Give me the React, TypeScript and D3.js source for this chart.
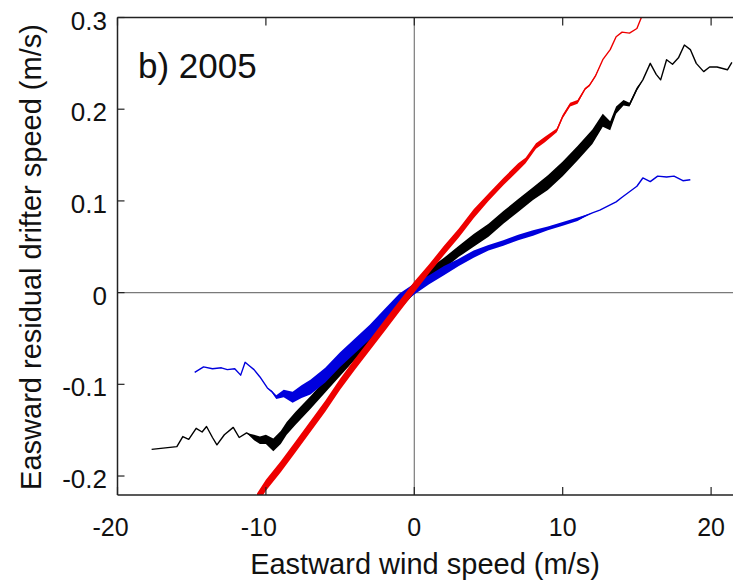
import React from "react";
import * as d3 from "d3";

const W = 733;
const H = 584;

// Eastward wind speed (m/s) -> residual drifter speed (m/s)
const redX = [-10.6, -10, -9, -8, -7, -6, -5, -4, -3, -2, -1, 0, 1, 2, 3, 4, 5, 6, 7, 7.5, 8.2, 8.8, 9.6, 10, 10.5, 11, 11.5, 11.8, 12.2, 12.7, 13.2, 13.6, 14, 14.5, 15, 15.3];
const redY = [-0.225, -0.21, -0.19, -0.168, -0.146, -0.124, -0.1, -0.078, -0.057, -0.036, -0.015, 0.006, 0.026, 0.046, 0.065, 0.086, 0.104, 0.121, 0.137, 0.144, 0.16, 0.167, 0.177, 0.192, 0.205, 0.208, 0.222, 0.226, 0.236, 0.254, 0.265, 0.279, 0.284, 0.283, 0.288, 0.3];
const redSpread = [0.006, 0.006, 0.006, 0.006, 0.006, 0.006, 0.006, 0.006, 0.006, 0.006, 0.006, 0.006, 0.005, 0.005, 0.005, 0.005, 0.004, 0.004, 0.004, 0.003, 0.003, 0.003, 0.002, 0.002, 0.002, 0.002, 0.001, 0.001, 0.001, 0, 0, 0, 0, 0, 0, 0];

const blackX = [-17.7, -16, -15.6, -15.2, -14.7, -14.3, -14, -13.6, -13.3, -12.8, -12.2, -11.8, -11.3, -10.8, -10.4, -10, -9.5, -9, -8.6, -8, -7, -6, -5, -4, -3, -2, -1, 0, 1, 2, 3, 4, 5, 6, 7, 8, 9, 10, 11, 12, 12.7, 13.2, 13.6, 14.1, 14.5, 15, 15.4, 15.9, 16.3, 16.6, 17, 17.4, 17.8, 18.2, 18.6, 19, 19.5, 19.9, 20.4, 21.1, 21.4];
const blackY = [-0.171, -0.168, -0.157, -0.16, -0.148, -0.152, -0.146, -0.158, -0.166, -0.155, -0.147, -0.158, -0.153, -0.158, -0.161, -0.16, -0.166, -0.158, -0.148, -0.137, -0.12, -0.102, -0.084, -0.066, -0.049, -0.031, -0.013, 0.005, 0.02, 0.032, 0.045, 0.057, 0.068, 0.082, 0.095, 0.108, 0.12, 0.135, 0.152, 0.17, 0.188, 0.182, 0.199, 0.207, 0.205, 0.222, 0.232, 0.25, 0.238, 0.232, 0.254, 0.249, 0.256, 0.27, 0.265, 0.25, 0.241, 0.246, 0.246, 0.243, 0.251];
const blackSpread = [0, 0, 0, 0, 0, 0, 0, 0, 0, 0, 0, 0, 0, 0.003, 0.004, 0.005, 0.007, 0.007, 0.007, 0.007, 0.007, 0.007, 0.007, 0.007, 0.007, 0.006, 0.006, 0.006, 0.006, 0.006, 0.006, 0.007, 0.007, 0.007, 0.007, 0.007, 0.008, 0.008, 0.008, 0.008, 0.007, 0.005, 0.004, 0.003, 0.002, 0.002, 0, 0, 0, 0, 0, 0, 0, 0, 0, 0, 0, 0, 0, 0, 0];

const blueX = [-14.8, -14.2, -13.6, -13, -12.6, -12.1, -11.7, -11.4, -11.1, -10.8, -10.4, -9.9, -9.6, -9.3, -8.8, -8.2, -7.6, -7, -6, -5, -4, -3, -2, -1, 0, 1, 2, 3, 4, 5, 6, 7, 8, 9, 10, 11, 12, 12.5, 13, 13.6, 14, 14.5, 15, 15.4, 15.9, 16.4, 17, 17.5, 18.1, 18.6];
const blueY = [-0.087, -0.081, -0.083, -0.082, -0.084, -0.083, -0.09, -0.076, -0.08, -0.084, -0.092, -0.104, -0.108, -0.114, -0.11, -0.114, -0.108, -0.103, -0.09, -0.073, -0.058, -0.043, -0.025, -0.008, 0.004, 0.014, 0.024, 0.033, 0.042, 0.049, 0.054, 0.06, 0.065, 0.07, 0.075, 0.08, 0.087, 0.09, 0.094, 0.099, 0.104, 0.11, 0.116, 0.125, 0.121, 0.127, 0.126, 0.127, 0.122, 0.123];
const blueSpread = [0, 0, 0, 0, 0, 0, 0, 0, 0, 0, 0, 0, 0.001, 0.002, 0.004, 0.006, 0.007, 0.008, 0.008, 0.008, 0.008, 0.008, 0.007, 0.007, 0.006, 0.005, 0.005, 0.004, 0.004, 0.003, 0.003, 0.003, 0.003, 0.002, 0.002, 0.002, 0, 0, 0, 0, 0, 0, 0, 0, 0, 0, 0, 0, 0, 0];

const xTicks = [-20, -10, 0, 10, 20];
const yTicks = [0.3, 0.2, 0.1, 0, -0.1, -0.2];

const panelLabel = "b) 2005";
const xLabel = "Eastward wind speed (m/s)";
const yLabel = "Easward residual drifter speed (m/s)";

type P = { x: number; y: number; s: number };
const zip = (xs: number[], ys: number[], ss: number[]): P[] =>
  xs.map((v, i) => ({ x: v, y: ys[i], s: ss[i] }));

const FONT = "'Liberation Sans', Arial, Helvetica, sans-serif";

export default function App() {
  const left = 117.5;
  const top = 17.5;
  const bottom = 495;
  const x = d3.scaleLinear().domain([-20, 22]).range([left, left + 42 * 14.84]);
  const y = d3.scaleLinear().domain([-0.2207, 0.3]).range([bottom, top]);

  const area = d3
    .area<P>()
    .x((d) => x(d.x))
    .y0((d) => y(d.y - d.s))
    .y1((d) => y(d.y + d.s));
  const line = d3
    .line<P>()
    .x((d) => x(d.x))
    .y((d) => y(d.y));

  const series = [
    { data: zip(blackX, blackY, blackSpread), color: "#000000" },
    { data: zip(blueX, blueY, blueSpread), color: "#0000dd" },
    { data: zip(redX, redY, redSpread), color: "#ee0000" },
  ];

  const axisColor = "#222";
  const fmtY = (v: number) => (v === 0 ? "0" : d3.format(".1f")(v).replace("−", "-"));

  return (
    <svg
      width={W}
      height={H}
      style={{ position: "absolute", left: 0, top: 0, background: "#fff" }}
      fontFamily={FONT}
    >
      <defs>
        <clipPath id="plot">
          <rect x={left} y={top} width={W - left} height={bottom - top} />
        </clipPath>
      </defs>
      <rect x={0} y={0} width={W} height={H} fill="#fff" />

      {/* zero lines */}
      <line x1={left} x2={W} y1={y(0)} y2={y(0)} stroke="#7a7a7a" strokeWidth={1.2} />
      <line x1={x(0)} x2={x(0)} y1={top} y2={bottom} stroke="#7a7a7a" strokeWidth={1.2} />

      <g clipPath="url(#plot)">
        {series.map((s, i) => (
          <g key={i}>
            <path d={area(s.data) || ""} fill={s.color} stroke="none" />
            <path d={line(s.data) || ""} fill="none" stroke={s.color} strokeWidth={1.4} strokeLinejoin="round" />
          </g>
        ))}
      </g>

      {/* axes frame */}
      <line x1={left} x2={left} y1={top} y2={bottom} stroke={axisColor} strokeWidth={1.5} />
      <line x1={left} x2={W} y1={bottom} y2={bottom} stroke={axisColor} strokeWidth={1.5} />
      <line x1={left} x2={W} y1={top} y2={top} stroke={axisColor} strokeWidth={1.5} />

      {xTicks.map((t) => (
        <g key={"xt" + t}>
          <line x1={x(t)} x2={x(t)} y1={bottom} y2={bottom - 8} stroke={axisColor} strokeWidth={1.2} />
          <line x1={x(t)} x2={x(t)} y1={top} y2={top + 8} stroke={axisColor} strokeWidth={1.2} />
          <text
            x={x(t) + (t < 0 ? -7 : 0)}
            y={536}
            textAnchor="middle"
            fontSize={25}
            fill="#111"
          >
            {String(t)}
          </text>
        </g>
      ))}

      {yTicks.map((t) => (
        <g key={"yt" + t}>
          <line x1={left} x2={left + 7} y1={y(t)} y2={y(t)} stroke={axisColor} strokeWidth={1.2} />
          <text x={107} y={y(t) + 12} textAnchor="end" fontSize={26} fill="#111">
            {fmtY(t)}
          </text>
        </g>
      ))}

      <text x={138} y={78} fontSize={35} fill="#111">
        {panelLabel}
      </text>

      <text x={425} y={574} textAnchor="middle" fontSize={29} fill="#111">
        {xLabel}
      </text>
      <text
        transform={`translate(41, 257) rotate(-90)`}
        textAnchor="middle"
        fontSize={29}
        fill="#111"
      >
        {yLabel}
      </text>
    </svg>
  );
}
